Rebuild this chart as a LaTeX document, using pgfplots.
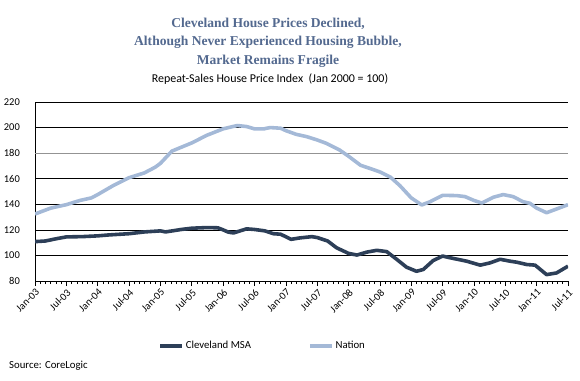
\documentclass[border=0pt]{standalone}
\usepackage{fontspec}
\setmainfont{Carlito}
\newfontfamily\titlefont{Liberation Serif}
\usepackage{pgfplots}
\pgfplotsset{compat=1.18}
\definecolor{cle}{HTML}{2D3F58}
\definecolor{nat}{HTML}{A4B9D7}
\definecolor{ttl}{HTML}{53698F}
\begin{document}
\begin{tikzpicture}[x=1bp,y=1bp]
\path[use as bounding box] (0,0) rectangle (580,380);
\node[font=\titlefont\fontsize{13.6}{14}\selectfont\bfseries, text=ttl] at (268,356) {Cleveland House Prices Declined,};
\node[font=\titlefont\fontsize{13.6}{14}\selectfont\bfseries, text=ttl] at (268,338) {Although Never Experienced Housing Bubble,};
\node[font=\titlefont\fontsize{13.6}{14}\selectfont\bfseries, text=ttl] at (268,319) {Market Remains Fragile};
\node[font=\fontsize{12}{13}\selectfont] at (270,301) {Repeat-Sales House Price Index\ \ (Jan 2000 = 100)};
\node[font=\fontsize{10.8}{12}\selectfont, anchor=west, inner sep=0] at (9,14) {Source: CoreLogic};
\begin{axis}[
  at={(35bp,99bp)}, anchor=south west,
  width=533bp, height=179bp, scale only axis,
  xmin=0, xmax=102, ymin=80, ymax=220,
  axis x line*=bottom, axis y line*=left,
  axis line style={black, line width=0.7pt, -},
  xtick={0,6,...,102},
  xticklabels={Jan-03,Jul-03,Jan-04,Jul-04,Jan-05,Jul-05,Jan-06,Jul-06,Jan-07,Jul-07,Jan-08,Jul-08,Jan-09,Jul-09,Jan-10,Jul-10,Jan-11,Jul-11},
  minor x tick num=5,
  x tick style={black, line width=0.6pt},
  tick align=outside,
  major tick length=5bp, minor tick length=3bp,
  xticklabel style={rotate=45, anchor=north east, inner sep=1.5pt, font=\fontsize{10.5}{11}\selectfont},
  ytick={80,100,120,140,160,200,220},
  extra y ticks={180},
  extra y tick style={grid style={gray!85, line width=0.9pt}},
  y tick style={draw=none},
  yticklabel style={font=\fontsize{10.5}{11}\selectfont, inner sep=1pt, xshift=-9bp},
  /pgf/number format/assume math mode=true,
  ymajorgrids,
  grid style={black, line width=0.6pt},
  legend columns=2,
  legend style={draw=none, fill=none, at={(0.231,-0.363)}, anchor=west, inner xsep=0pt, font=\fontsize{10.8}{11}\selectfont,
    /tikz/every even column/.append style={column sep=55bp}},
  legend image code/.code={\draw[#1, line width=3.5pt] (0bp,0bp) -- (22bp,0bp);},
  legend cell align=left,
]
\addplot[cle, line width=3.6pt, line join=round] coordinates {
(0,110.8)(2,111.3)(4,113)(6,114.5)(9,114.7)(12,115.3)(14,116)(18,117)(21,118.4)(24,119.2)(25,118.4)(28,120.3)(30,121.3)(33,121.8)(35,121.6)(36,120)(37,118.2)(38,117.6)(40.5,120.8)(42,120.3)(44,119.2)(45.6,117)(47,116.6)(49,112.6)(50.7,113.7)(53,114.7)(54,114)(56,111.3)(57.7,106)(60,101.6)(61.6,100.3)(63.5,102.6)(65.4,104)(67.3,103)(69.2,97)(71.1,90.8)(73,87.6)(74.3,89)(76.2,96)(78,99.5)(79.4,98.2)(81.3,96.6)(82.6,95.5)(85.2,92.4)(87.1,94.2)(89,97)(90.9,95.5)(92.2,94.7)(94.1,92.9)(95.7,92.4)(97.9,85)(99.8,86.3)(102,91.6)
};
\addlegendentry{Cleveland MSA}
\addplot[nat, line width=3.6pt, line join=round] coordinates {
(0,132.4)(3,137)(6,139.7)(8.6,143)(10.8,145)(12,147.6)(15,154.7)(18,160.8)(20.9,164.5)(23,169)(24,172)(26.2,181.6)(30,188)(32.9,194)(36,199)(38.7,201.6)(40.5,200.8)(42,199)(43.8,199)(45,200)(47,199.5)(48,197.6)(50,194.7)(52,192.9)(54,190.3)(55.8,187.6)(58.3,182.4)(60,177.6)(62.3,170.5)(64.2,167.9)(66,165.3)(68,161.3)(69.8,154.7)(72,145)(74,139.5)(75.6,142)(78,147)(80.7,146.8)(82.3,146)(84,143)(85.5,141)(87.7,145.5)(89.6,147.6)(91.5,146)(93.4,142)(94.7,140.8)(96,137)(97.9,133.4)(99.8,136.3)(102,139.7)
};
\addlegendentry{Nation}
\end{axis}
\end{tikzpicture}
\end{document}
